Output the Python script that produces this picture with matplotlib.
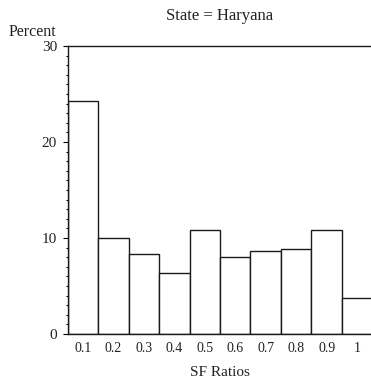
import matplotlib
matplotlib.use("Agg")
import matplotlib.pyplot as plt
from matplotlib.ticker import MultipleLocator

# Histogram of SF ratios, state of Haryana
sf_ratios = [0.1, 0.2, 0.3, 0.4, 0.5, 0.6, 0.7, 0.8, 0.9, 1.0]
percents = [24.3, 10.0, 8.3, 6.4, 10.8, 8.0, 8.6, 8.9, 10.8, 3.7]
tick_labels = ["0.1", "0.2", "0.3", "0.4", "0.5", "0.6", "0.7", "0.8", "0.9", "1"]
y_ticks = [0, 10, 20, 30]

plt.rcParams["font.family"] = ["Liberation Serif", "DejaVu Serif"]

fig = plt.figure(figsize=(3.71, 3.85), dpi=100)
ax = fig.add_axes([0.182, 0.1325, 0.822, 0.748])

ax.bar(sf_ratios, percents, width=0.1, color="white", edgecolor="#1a1a1a",
       linewidth=1.0, align="center")

ax.set_xlim(0.05, 1.05)
ax.set_ylim(0, 30)
ax.set_xticks(sf_ratios)
ax.set_xticklabels(tick_labels, fontsize=10, color="#222222")
ax.set_yticks(y_ticks)
ax.set_yticklabels([str(v) for v in y_ticks], fontsize=11, color="#222222")
ax.yaxis.set_minor_locator(MultipleLocator(1))

ax.tick_params(axis="x", length=0, pad=6)
ax.tick_params(axis="y", which="major", direction="out", length=3.6,
               width=0.8, pad=4)
ax.tick_params(axis="y", which="minor", direction="out", length=1.8,
               width=0.8)

ax.spines["right"].set_visible(False)
for side in ["left", "top", "bottom"]:
    ax.spines[side].set_linewidth(1.0)
    ax.spines[side].set_color("#1a1a1a")

ax.set_title("State = Haryana", fontsize=12, color="#222222", pad=19)
ax.set_xlabel("SF Ratios", fontsize=11, color="#222222", labelpad=8)
fig.text(56 / 371, 1 - 36 / 385, "Percent", ha="right", va="baseline",
         fontsize=11.5, color="#222222")

fig.savefig("out.png", dpi=100)
